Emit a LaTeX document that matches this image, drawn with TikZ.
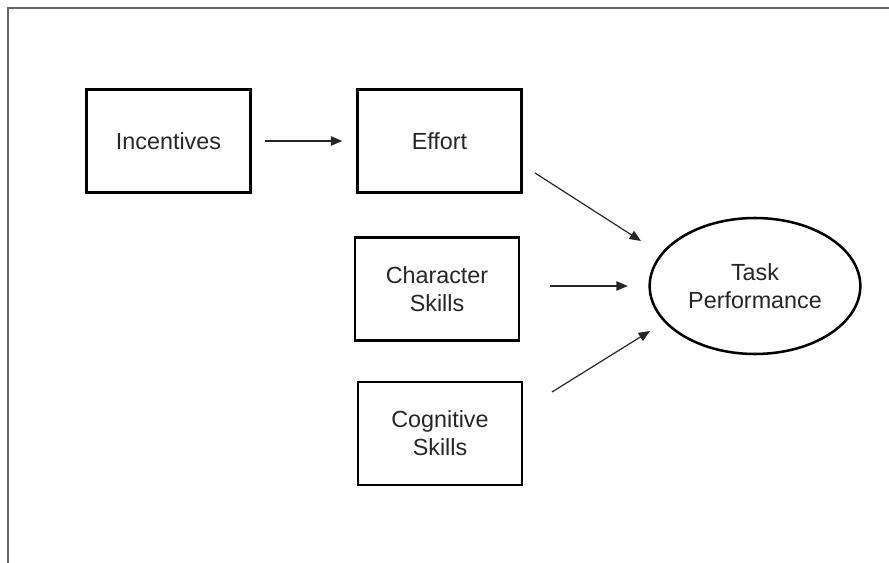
\documentclass[tikz,border=0pt]{standalone}
\usepackage{fontspec}
\setmainfont{Liberation Sans}
\usetikzlibrary{arrows.meta,shapes.geometric}

\begin{document}
\begin{tikzpicture}[x=0.75pt,y=-0.75pt,
    box/.style={draw, line width=1.9pt, minimum width=123pt, minimum height=77pt,
      inner sep=0pt, align=center, text=black!85, font=\fontsize{17.5}{21}\selectfont},
    goal/.style={ellipse, draw, line width=1.9pt, minimum width=158pt, minimum height=102pt,
      inner sep=0pt, align=center, text=black!85, font=\fontsize{17.5}{21}\selectfont},
    link/.style={-{Triangle[length=8.5pt,width=7pt]}, line width=0.9pt, black!85}]
    \useasboundingbox (0,0) rectangle (889,563);

    % open frame (top and left only)
    \draw[black!60, line width=1.5pt] (8,563) -- (8,8) -- (889,8);

    % boxes
    \node[box] (inc) at (168.5,141) {Incentives};
    \node[box] (eff) at (439.5,141) {Effort};
    \node[box] (chr) at (437,289) {Character\\Skills};
    \node[box] (cog) at (440,433.5) {Cognitive\\Skills};

    % outcome
    \node[goal] (task) at (755,286) {Task\\Performance};

    % free ends of the slanted arrows
    \coordinate (effout) at (535,173);
    \coordinate (effin) at (641,241);
    \coordinate (cogout) at (552,392);
    \coordinate (cogin) at (650,331);

    % arrows
    \draw[link, shorten <=10pt, shorten >=10.5pt] (inc) -- (eff);
    \draw[link] (effout) -- (effin);
    \draw[link, shorten <=22.5pt, shorten >=15.5pt] (chr.east |- task.west) -- (task.west);
    \draw[link] (cogout) -- (cogin);
\end{tikzpicture}
\end{document}
